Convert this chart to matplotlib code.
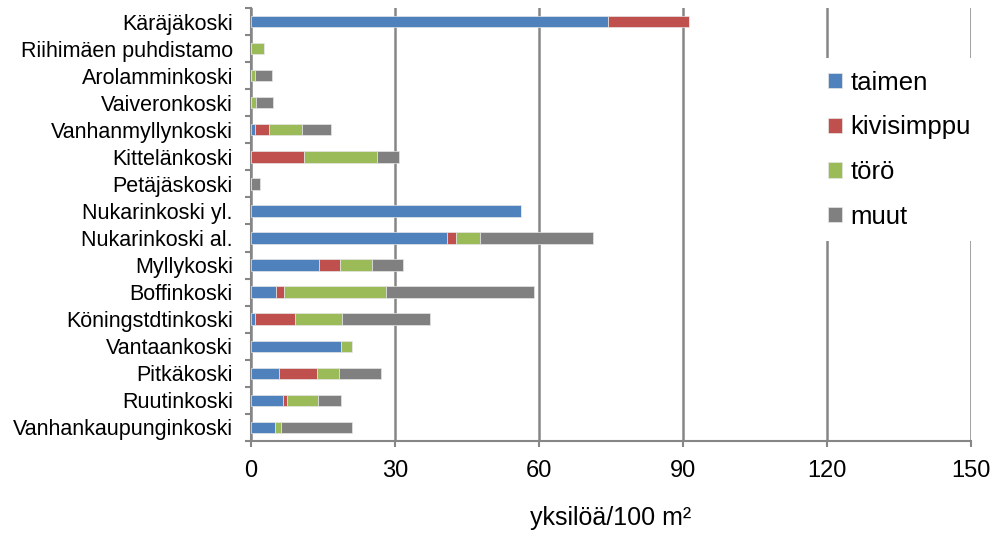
import matplotlib.pyplot as plt
import numpy as np

plt.rcParams['font.family'] = ['Liberation Sans', 'DejaVu Sans']

sites = ["Käräjäkoski", "Riihimäen puhdistamo", "Arolamminkoski", "Vaiveronkoski",
         "Vanhanmyllynkoski", "Kittelänkoski", "Petäjäskoski", "Nukarinkoski yl.",
         "Nukarinkoski al.", "Myllykoski", "Boffinkoski", "Köningstdtinkoski",
         "Vantaankoski", "Pitkäkoski", "Ruutinkoski", "Vanhankaupunginkoski"]
taimen = [74.3, 0, 0, 0, 0.9, 0, 0, 56.2, 40.8, 14.2, 5.1, 0.8, 18.7, 5.8, 6.7, 5.0]
kivisimppu = [17.0, 0, 0, 0, 2.85, 11.0, 0, 0, 1.9, 4.4, 1.7, 8.3, 0, 7.9, 0.8, 0]
toro = [0, 2.6, 0.8, 1.0, 6.8, 15.2, 0, 0, 5.0, 6.7, 21.4, 9.9, 2.3, 4.6, 6.4, 1.2]
muut = [0, 0, 3.6, 3.5, 6.1, 4.7, 1.8, 0, 23.5, 6.4, 30.8, 18.2, 0, 8.8, 4.9, 14.8]

series = [("taimen", taimen, "#4F81BD"), ("kivisimppu", kivisimppu, "#C0504D"),
          ("törö", toro, "#9BBB59"), ("muut", muut, "#808080")]

fig = plt.figure(figsize=(10.03, 5.37), dpi=100)
ax = fig.add_axes([0.2503, 0.179, 0.968 - 0.2503, 0.985 - 0.179])

y = np.arange(len(sites))
left = np.zeros(len(sites))
for name, vals, col in series:
    vals = np.array(vals)
    ax.barh(y, vals, left=left, height=0.42, color=col, label=name,
            edgecolor="#e6e6e6", linewidth=0.5, zorder=3)
    left += vals

ax.set_xlim(0, 150)
ax.set_ylim(len(sites) - 0.5, -0.5)
ax.set_xticks(np.arange(0, 151, 30))
ax.set_yticks(y)
ax.set_yticklabels(sites, fontsize=15.5)
ax.set_yticks(np.arange(-0.5, len(sites), 1), minor=True)
ax.tick_params(axis="y", which="major", length=0, pad=13)
ax.tick_params(axis="y", which="minor", length=4, width=1.5, color="#868686")
ax.tick_params(axis="x", length=4, width=1.5, color="#868686", labelsize=17, pad=10)

ax.grid(axis="x", color="#868686", linewidth=1.8, zorder=0)
for s in ["top", "right"]:
    ax.spines[s].set_visible(False)
for s in ["left", "bottom"]:
    ax.spines[s].set_color("#868686")
    ax.spines[s].set_linewidth(1.5)

ax.set_xlabel("yksilöä/100 m²", fontsize=18, labelpad=17)

leg = ax.legend(loc="upper left", bbox_to_anchor=(815 / 1003, 1 - 58 / 537),
                bbox_transform=fig.transFigure, fontsize=18.5,
                handlelength=0.54, handleheight=0.54, handletextpad=0.35,
                labelspacing=0.8, frameon=True, facecolor="white",
                edgecolor="white", framealpha=1, borderpad=0.5, borderaxespad=0)
leg.get_frame().set_linewidth(0)

fig.savefig("out.png", dpi=100)
